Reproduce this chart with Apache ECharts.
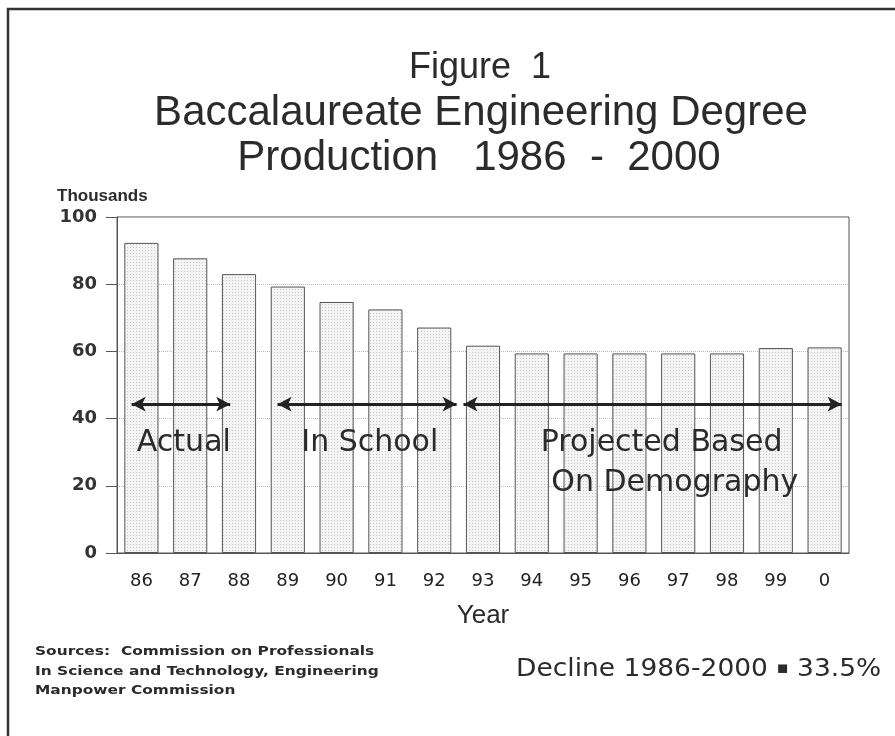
<!DOCTYPE html>
<html>
<head>
<meta charset="utf-8">
<script src="https://cdn.jsdelivr.net/npm/echarts@6/dist/echarts.min.js"></script>
<style>html,body{margin:0;padding:0;background:#fff;}#c{width:895px;height:736px;}</style>
</head>
<body>
<div id="c"></div>
<script>
// ---- data ----
const years = ['86','87','88','89','90','91','92','93','94','95','96','97','98','99','0'];
const degrees = [92.3, 87.7, 83.0, 79.3, 74.7, 72.5, 67.1, 61.7, 59.4, 59.4, 59.4, 59.4, 59.4, 61.0, 61.2];
const yTicks = [0, 20, 40, 60, 80, 100];
// periods as [start, end] along category positions (arrow tips)
const periodArrows = [[-0.2, 1.82], [2.79, 6.46], [6.6, 14.35]];
const arrowLevel = 44.3;
const periodLabels = [
  {text: 'Actual', x: 0.87, y: 32.7},
  {text: 'In School', x: 4.68, y: 32.7},
  {text: 'Projected Based', x: 10.66, y: 32.7},
  {text: 'On Demography', x: 10.93, y: 20.8}
];
const titleLines = ['Figure  1', 'Baccalaureate Engineering Degree', 'Production   1986  -  2000'];
const sourcesText = 'Sources:  Commission on Professionals\nIn Science and Technology, Engineering\nManpower Commission';
const declineParts = ['Decline 1986-2000 ', '\u25AA', ' 33.5%'];

// dotted fill pattern for bars
const pc = document.createElement('canvas');
pc.width = 3; pc.height = 3;
const px = pc.getContext('2d');
px.fillStyle = '#f4f4f4'; px.fillRect(0, 0, 3, 3);
px.fillStyle = '#c8c8c8'; px.fillRect(1, 1, 1, 1);

const ink = '#2b2b2b';
const chart = echarts.init(document.getElementById('c'), null, {renderer: 'canvas'});
chart.setOption({
  animation: false,
  backgroundColor: '#fff',
  grid: {left: 117, right: 46, top: 217, bottom: 183, show: true, borderColor: '#555', borderWidth: 1},
  xAxis: [{
    type: 'category', data: years,
    axisLine: {onZero: false, lineStyle: {color: '#555', width: 1}},
    axisTick: {alignWithLabel: true, length: 8, lineStyle: {color: '#777'}},
    axisLabel: {margin: 19, fontFamily: 'DejaVu Sans', fontSize: 18, color: '#222'},
    name: 'Year', nameLocation: 'middle', nameGap: 50,
    nameTextStyle: {fontFamily: 'Liberation Sans', fontSize: 26, color: ink}
  }, {
    type: 'value', min: -0.5, max: 14.5, show: false, axisLine: {onZero: false}
  }],
  yAxis: {
    type: 'value', min: yTicks[0], max: yTicks[yTicks.length - 1], interval: 20,
    axisLine: {show: true, onZero: false, lineStyle: {color: '#555', width: 1}},
    axisTick: {show: true, length: 11, lineStyle: {color: '#555'}},
    axisLabel: {margin: 20, fontFamily: 'DejaVu Sans', fontWeight: 'bold', fontSize: 18, color: '#333'},
    splitLine: {show: true, lineStyle: {color: '#bbb', type: 'dotted', width: 1}}
  },
  series: [{
    type: 'bar', data: degrees, barWidth: '70%',
    itemStyle: {color: {image: pc, repeat: 'repeat'}, borderColor: '#555', borderWidth: 1}
  }, {
    type: 'scatter', xAxisIndex: 1, yAxisIndex: 0, data: [], silent: true,
    markLine: {
      silent: true, symbol: ['arrow', 'arrow'], symbolSize: [11, 14],
      lineStyle: {color: '#222', width: 3, type: 'solid'},
      label: {show: false},
      data: periodArrows.map(a => [{coord: [a[0], arrowLevel]}, {coord: [a[1], arrowLevel]}])
    },
    markPoint: {
      silent: true, symbol: 'rect', symbolSize: 1,
      itemStyle: {color: 'rgba(0,0,0,0)'},
      label: {show: true, position: 'inside', fontFamily: 'DejaVu Sans', fontSize: 30, color: ink,
        formatter: p => p.name},
      data: periodLabels.map(l => ({name: l.text, coord: [l.x, l.y]}))
    }
  }],
  graphic: [
    {type: 'rect', shape: {x: 8, y: 9, width: 1200, height: 1200}, style: {fill: 'none', stroke: '#333', lineWidth: 2.5}, z: 100},
    {type: 'text', x: 480, y: 68, style: {text: titleLines[0], fontFamily: 'Liberation Sans', fontSize: 36, fill: ink, textAlign: 'center', textVerticalAlign: 'middle'}},
    {type: 'text', x: 481, y: 113, style: {text: titleLines[1], fontFamily: 'Liberation Sans', fontSize: 42, fill: ink, textAlign: 'center', textVerticalAlign: 'middle'}},
    {type: 'text', x: 479, y: 158, style: {text: titleLines[2], fontFamily: 'Liberation Sans', fontSize: 42, fill: ink, textAlign: 'center', textVerticalAlign: 'middle'}},
    {type: 'text', x: 57, y: 196, style: {text: 'Thousands', fontFamily: 'Liberation Sans', fontWeight: 'bold', fontSize: 17, fill: ink, textAlign: 'left', textVerticalAlign: 'middle'}},
    {type: 'text', x: 35, y: 642, scaleX: 1.185, style: {text: sourcesText, fontFamily: 'DejaVu Sans', fontWeight: 'bold', fontSize: 13, lineHeight: 19.5, fill: ink, textAlign: 'left', textVerticalAlign: 'top'}},
    {type: 'text', x: 516, y: 669, scaleX: 1.06, style: {
      text: '{a|' + declineParts[0] + '}{b|' + declineParts[1] + '}{a|' + declineParts[2] + '}',
      rich: {
        a: {fontFamily: 'DejaVu Sans', fontSize: 25, fill: ink, color: ink},
        b: {fontFamily: 'DejaVu Sans', fontSize: 17, fill: ink, color: ink}
      },
      textAlign: 'left', textVerticalAlign: 'middle'}}
  ]
});
</script>
</body>
</html>
